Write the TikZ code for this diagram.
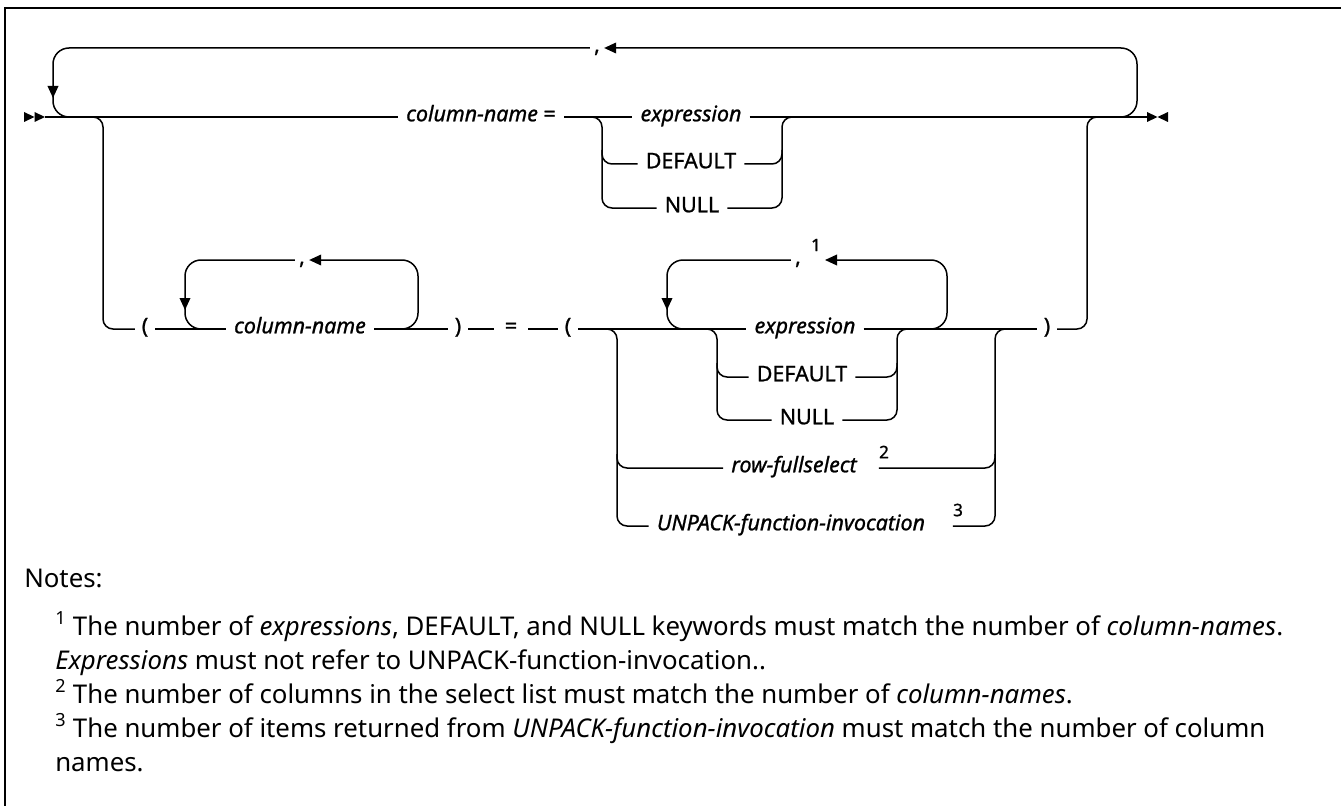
\documentclass[tikz,border=0pt]{standalone}
\usepackage{fontspec}
\setmainfont{Noto Sans}
\newfontfamily\rrfont[FakeBold=1.0]{Noto Sans}
\usetikzlibrary{arrows.meta}
\newlength\rrw
\tikzset{
  rrline/.style={line width=1.125pt, rounded corners=7.5pt},
  rrloop/.style={line width=1.125pt, rounded corners=12pt},
  rrhead/.style={-{Triangle[length=9pt,width=8pt]}},
  rrarr/.style={line width=1.125pt, -{Triangle[length=9pt,width=8pt]}},
  rrlbl/.style={font=\rrfont\fontsize{\rrfs pt}{18pt}\selectfont, inner xsep=6pt, inner ysep=0pt, text height=0.74em, text depth=0.1em},
  rrit/.style={rrlbl, font=\rrfont\itshape\fontsize{\rrfs pt}{18pt}\selectfont},
  rrkw/.style={rrlbl},
  rrpn/.style={rrlbl, inner xsep=5pt},
  rrcomma/.style={rrlbl, inner xsep=3pt},
  rrsup/.style={font=\rrfont\fontsize{\rrss pt}{14pt}\selectfont, inner sep=0pt},
  rrnote/.style={font=\fontsize{\ntfs pt}{25pt}\selectfont, inner sep=0pt, anchor=base west},
  rrend/.style={fill=black, draw=none}
}
\begin{document}
\settowidth\rrw{\rrfont\itshape\fontsize{15pt}{18pt}\selectfont UNPACK-function-invocation}%
\pgfmathsetmacro\rrfs{201/\rrw*15}%
\pgfmathsetmacro\rrss{\rrfs*0.8}%
\settowidth\rrw{\fontsize{17pt}{25pt}\selectfont \textsuperscript{1} The number of \textit{expressions}, DEFAULT, and NULL keywords must match the number of \textit{column-names}.}%
\pgfmathsetmacro\ntfs{921/\rrw*17}%
\begin{tikzpicture}[x=0.75pt,y=-0.75pt]
\useasboundingbox (0,0) rectangle (1341,806);
% frame
\draw[line width=1.5pt] (5,806) -- (5,8) -- (1341,8);

% start / end markers
\coordinate (st) at (45,117);
\coordinate (en) at (1147,117);
\fill[rrend] (24,112) -- (34.5,117) -- (24,122) -- cycle;
\fill[rrend] (34.5,112) -- (45,117) -- (34.5,122) -- cycle;
\fill[rrend] (1147,112) -- (1157.5,117) -- (1147,122) -- cycle;
\fill[rrend] (1168,112) -- (1157.5,117) -- (1168,122) -- cycle;

% ---------- row 1 ----------
\node[rrlbl] (cn1) at (481,117) {\itshape column-name \upshape =};
\node[rrit] (ex1) at (691,117) {expression};
\node[rrkw] (df1) at (691,164) {DEFAULT};
\node[rrkw] (nl1) at (692,208) {NULL};
\node[rrcomma] (c1) at (597,48) {,};

\draw[rrline] (st) -- (cn1.west);
\draw[rrline] (cn1.east) -- (ex1.west);
\draw[rrline] (ex1.east) -- (en);

\draw[rrline] (592,117) -- (602,117) -- (602,208) -- (nl1.west);
\draw[rrline] (602,150) -- (602,164) -- (df1.west);
\draw[rrline] (nl1.east) -- (782,208) -- (782,117) -- (792,117);
\draw[rrline] (df1.east) -- (782,164) -- (782,150);

% outer repeat loop
\draw[rrloop,rrhead] (1120,117) -- (1137,117) -- (1137,48) -- (c1.east);
\draw[rrloop] (c1.west) -- (53,48) -- (53,117) -- (72,117);
\draw[rrarr] (53,86) -- (53,98);

% branch to row 2 and return
\node[rrpn] (lp1) at (145,329) {(};
\node[rrpn] (rp2) at (1047,329) {)};
\draw[rrline] (93,117) -- (103,117) -- (103,329) -- (lp1.west);
\draw[rrline] (rp2.east) -- (1087,329) -- (1087,117) -- (1097,117);

% ---------- row 2 ----------
\node[rrit] (cn2) at (300,329) {column-name};
\node[rrpn] (rp1) at (458,329) {)};
\node[rrpn, inner xsep=8pt] (eq) at (511,329) {=};
\node[rrpn] (lp2) at (568,329) {(};
\node[rrit] (ex2) at (805,329) {expression};
\node[rrkw] (df2) at (802,377) {DEFAULT};
\node[rrkw] (nl2) at (807,420) {NULL};
\node[rrit] (rf) at (794,468) {row-fullselect};
\node[rrit] (up) at (791,526) {UNPACK-function-invocation};
\node[rrsup] (s2) at (884,452) {2};
\node[rrsup] (s3) at (958,510) {3};

\draw[rrline] (lp1.east) -- (cn2.west);
\draw[rrline] (cn2.east) -- (rp1.west);
\draw[rrline] (rp1.east) -- (eq.west);
\draw[rrline] (eq.east) -- (lp2.west);
\draw[rrline] (lp2.east) -- (ex2.west);
\draw[rrline] (ex2.east) -- (rp2.west);

% column-name repeat loop
\node[rrcomma] (c2) at (302,260) {,};
\draw[rrloop,rrhead] (398,329) -- (418,329) -- (418,260) -- (c2.east);
\draw[rrloop] (c2.west) -- (185,260) -- (185,329) -- (203,329);
\draw[rrarr] (185,298) -- (185,310);

% expression repeat loop
\node[rrcomma] (c3) at (798,260) {,};
\node[rrsup] (s1) at (816,245) {1};
\coordinate (c3r) at (825,260);
\draw[rrloop,rrhead] (930,329) -- (947,329) -- (947,260) -- (c3r);
\draw[rrloop] (c3.west) -- (667,260) -- (667,329) -- (683,329);
\draw[rrarr] (667,298) -- (667,310);

% expression / DEFAULT / NULL choice
\draw[rrline] (707,329) -- (717,329) -- (717,420) -- (nl2.west);
\draw[rrline] (717,363) -- (717,377) -- (df2.west);
\draw[rrline] (nl2.east) -- (897,420) -- (897,329) -- (907,329);
\draw[rrline] (df2.east) -- (897,377) -- (897,363);

% row-fullselect / UNPACK choice
\draw[rrline] (607,329) -- (617,329) -- (617,526) -- (up.west);
\draw[rrline] (617,454) -- (617,468) -- (rf.west);
\draw[rrline] (s2.west |- rf.east) -- (995,468) -- (995,454);
\draw[rrline] (s3.west |- up.east) -- (995,526) -- (995,329) -- (1005,329);

% ---------- notes ----------
\node[rrnote] (nt) at (24,587) {Notes:};
\node[rrnote] (n1) at (55,635) {\textsuperscript{1} The number of \textit{expressions}, DEFAULT, and NULL keywords must match the number of \textit{column-names}.};
\node[rrnote] (n1b) at (55,669) {\textit{Expressions} must not refer to UNPACK-function-invocation..};
\node[rrnote] (n2) at (55,703) {\textsuperscript{2} The number of columns in the select list must match the number of \textit{column-names}.};
\node[rrnote] (n3) at (55,737) {\textsuperscript{3} The number of items returned from \textit{UNPACK-function-invocation} must match the number of column};
\node[rrnote] (n3b) at (55,771) {names.};
\end{tikzpicture}
\end{document}
